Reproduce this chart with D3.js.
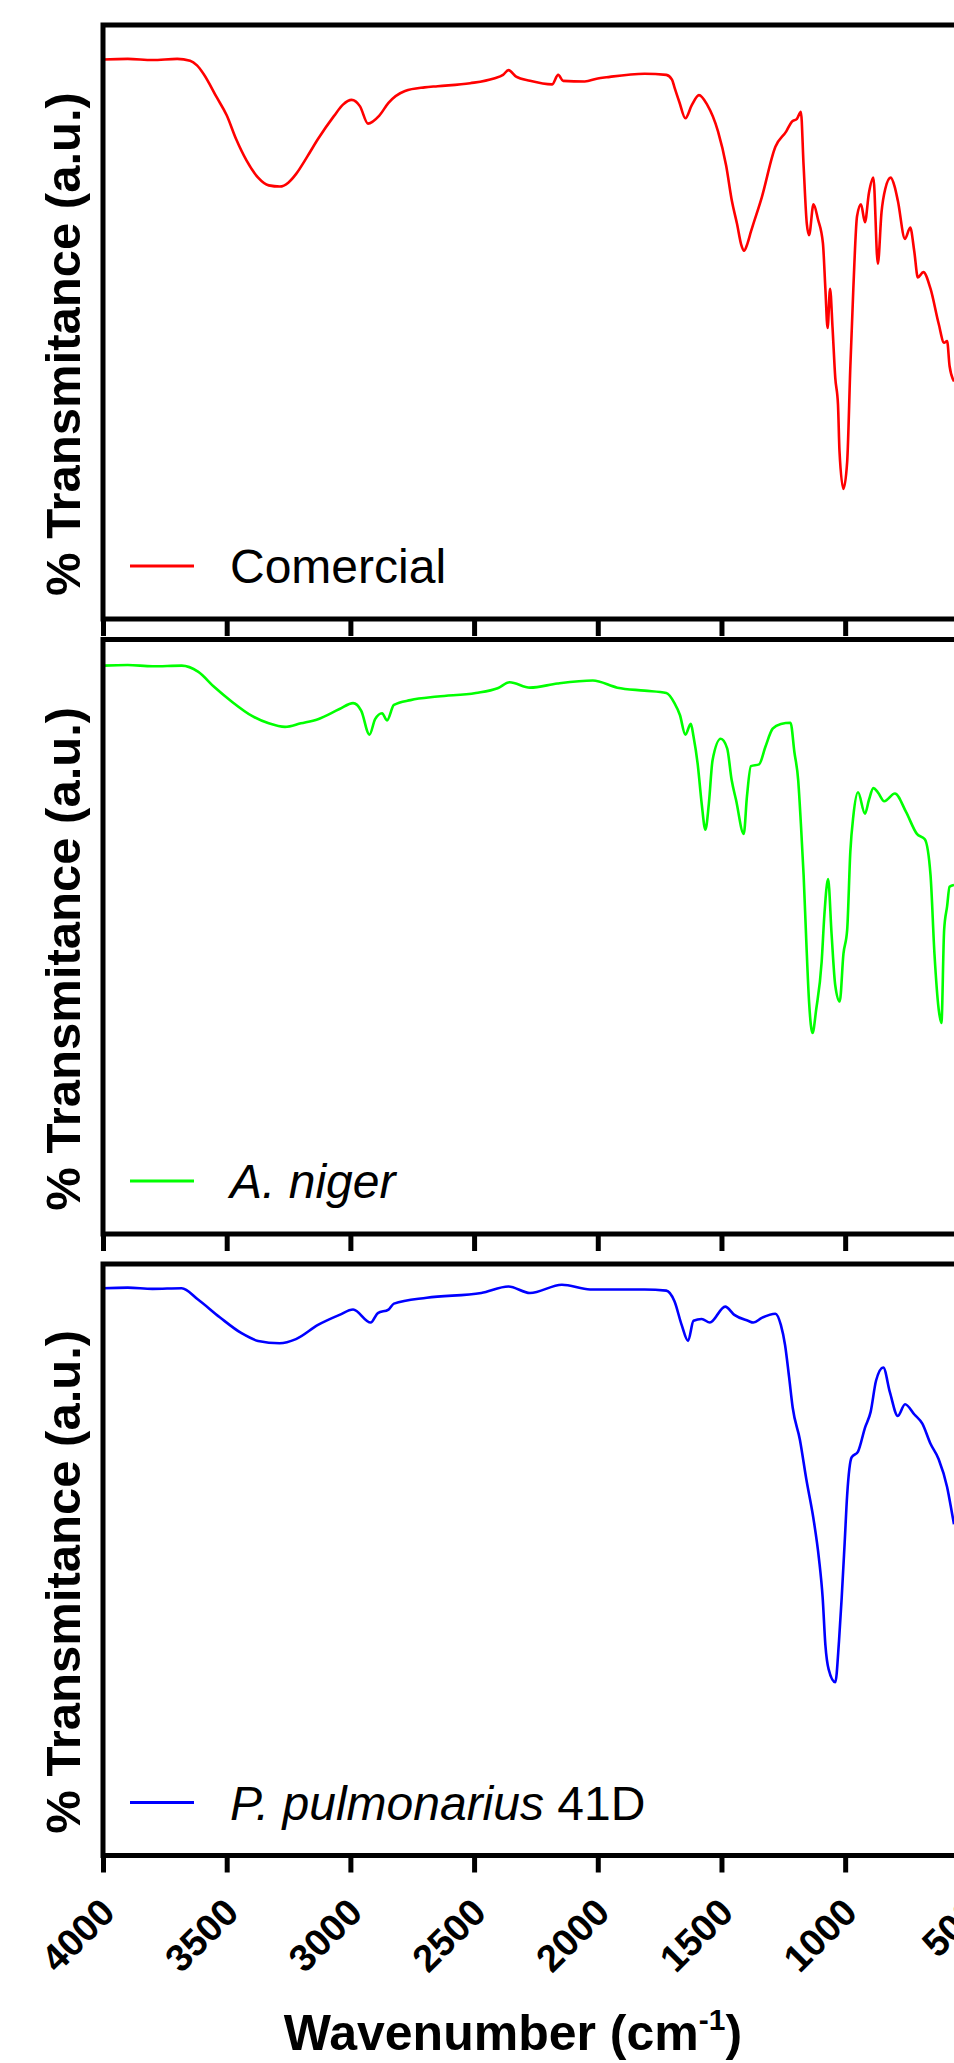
<!DOCTYPE html>
<html>
<head>
<meta charset="utf-8">
<script src="https://cdn.jsdelivr.net/npm/d3@7"></script>
<style>
  body { margin: 0; background: #fff; }
  svg { display: block; }
  text { font-family: "Liberation Sans", Arial, sans-serif; fill: #000; }
</style>
</head>
<body>
<div id="chart"></div>
<script>
// Spectra: [wavenumber cm-1, transmittance in % of panel height]
var comercial = [
  [4000, 94.2], [3900, 94.3], [3800, 94.1], [3700, 94.3], [3648, 94.0], [3620, 93.2],
  [3594, 91.8], [3540, 87.8], [3500, 84.8], [3462, 80.8], [3420, 77.2], [3373, 74.3],
  [3330, 73.0], [3285, 72.8], [3250, 73.5], [3220, 74.9], [3175, 77.8], [3131, 80.8],
  [3066, 84.7], [3030, 86.6], [2995, 87.4], [2961, 86.3], [2929, 83.4], [2884, 84.7],
  [2846, 86.9], [2779, 88.9], [2700, 89.5], [2647, 89.7], [2516, 90.2], [2420, 91.0],
  [2383, 91.6], [2361, 92.4], [2330, 91.3], [2274, 90.6], [2185, 90.0], [2160, 91.6],
  [2140, 90.6], [2053, 90.5], [2000, 91.0], [1965, 91.2], [1811, 91.8], [1723, 91.6],
  [1700, 90.8], [1690, 89.5], [1670, 87.0], [1646, 84.3], [1620, 86.5], [1591, 88.2],
  [1558, 86.6], [1514, 82.1], [1481, 76.3], [1458, 70.4], [1437, 66.5], [1420, 63.0],
  [1409, 62.0], [1395, 63.2], [1381, 65.2], [1337, 71.0], [1282, 79.5], [1238, 82.1],
  [1216, 83.7], [1195, 84.2], [1179, 85.4], [1168, 76.3], [1155, 66.5], [1146, 64.6],
  [1128, 69.8], [1110, 67.3], [1090, 63.3], [1080, 55.6], [1071, 49.0], [1061, 55.6],
  [1051, 49.0], [1040, 40.6], [1029, 36.1], [1023, 28.3], [1007, 21.9], [992, 26.4],
  [979, 42.6], [967, 55.6], [952, 67.8], [936, 69.8], [920, 66.8], [904, 71.7],
  [886, 74.3], [868, 59.8], [853, 68.5], [838, 72.4], [816, 74.3], [800, 72.8],
  [787, 70.4], [758, 64.0], [737, 65.9], [721, 62.0], [706, 57.5], [684, 58.4],
  [655, 55.6], [622, 49.7], [600, 46.5], [588, 46.8], [578, 42.6], [560, 40.0]
]

var aniger = [
  [4000, 95.6], [3900, 95.7], [3800, 95.5], [3682, 95.6], [3616, 94.6], [3550, 92.0],
  [3484, 89.7], [3396, 87.1], [3330, 85.9], [3264, 85.3], [3200, 85.9], [3131, 86.6],
  [3044, 88.3], [2989, 89.3], [2956, 88.0], [2923, 84.0], [2900, 86.6], [2872, 87.6],
  [2852, 86.4], [2824, 89.0], [2757, 89.8], [2647, 90.4], [2493, 91.0], [2405, 91.8],
  [2356, 92.8], [2274, 91.9], [2163, 92.6], [2020, 93.1], [1921, 91.9], [1811, 91.4],
  [1723, 91.0], [1690, 89.3], [1668, 87.3], [1646, 84.0], [1624, 85.8], [1613, 83.7],
  [1596, 79.0], [1580, 72.4], [1565, 68.0], [1551, 72.4], [1536, 79.7], [1503, 83.3],
  [1477, 81.7], [1459, 76.4], [1441, 73.0], [1410, 67.3], [1397, 73.6], [1381, 78.7],
  [1348, 79.0], [1322, 82.0], [1293, 85.0], [1260, 85.8], [1221, 86.0], [1205, 81.0],
  [1190, 76.4], [1179, 69.0], [1168, 60.4], [1157, 49.1], [1146, 39.1], [1132, 33.8],
  [1117, 37.8], [1095, 45.8], [1084, 53.7], [1069, 59.7], [1055, 50.5], [1040, 41.8],
  [1022, 39.1], [1007, 47.1], [992, 51.1], [979, 64.4], [967, 70.3], [948, 74.3],
  [920, 70.7], [904, 73.0], [886, 75.0], [868, 74.3], [842, 72.8], [799, 74.1],
  [754, 71.0], [710, 67.3], [678, 66.4], [655, 60.4], [639, 47.1], [622, 37.8],
  [611, 35.5], [600, 51.1], [588, 55.1], [578, 58.4], [560, 58.7]
]

var pulmonarius = [
  [4000, 95.9], [3900, 96.0], [3800, 95.8], [3682, 95.9], [3616, 94.0], [3528, 91.0],
  [3440, 88.3], [3373, 87.0], [3286, 86.6], [3220, 87.3], [3131, 89.7], [3044, 91.4],
  [2989, 92.3], [2918, 90.1], [2889, 91.7], [2846, 92.3], [2824, 93.3], [2691, 94.3],
  [2471, 95.1], [2361, 96.2], [2274, 95.1], [2145, 96.5], [2031, 95.7], [1811, 95.7],
  [1723, 95.5], [1690, 93.7], [1661, 89.7], [1635, 87.0], [1613, 90.4], [1580, 90.7],
  [1547, 90.1], [1485, 92.8], [1448, 91.4], [1393, 90.4], [1371, 90.1], [1337, 90.9],
  [1282, 91.6], [1260, 89.7], [1243, 86.3], [1227, 81.0], [1212, 75.7], [1183, 70.3],
  [1157, 63.6], [1128, 56.9], [1106, 50.2], [1091, 43.6], [1080, 35.6], [1067, 31.5],
  [1040, 29.3], [1025, 36.2], [1014, 43.6], [1002, 52.9], [992, 60.9], [974, 67.3],
  [948, 68.3], [920, 72.3], [897, 75.0], [875, 80.3], [846, 82.5], [819, 78.3],
  [787, 74.3], [758, 76.3], [721, 74.6], [688, 73.0], [655, 69.6], [622, 67.0],
  [588, 62.3], [567, 57.6], [560, 56.0]
]

var xTicks = [4000, 3500, 3000, 2500, 2000, 1500, 1000, 500]
var yLabel = '% Transmitance (a.u.)'

var width = 954
var height = 2063

var svg = d3.select('#chart')
  .append('svg')
  .attr('width', width)
  .attr('height', height)

// the plot runs past the right edge of the picture
var xPositionScale = d3.scaleLinear()
  .domain([4000, 400])
  .range([103, 993.6])

var panels = [
  { top: 25, bottom: 619, color: '#ff0000', data: comercial,
    legend: [{ text: 'Comercial', italic: false }] },
  { top: 639.5, bottom: 1234, color: '#00ff00', data: aniger,
    legend: [{ text: 'A. niger', italic: true }] },
  { top: 1264, bottom: 1855.5, color: '#0000ff', data: pulmonarius,
    legend: [{ text: 'P. pulmonarius', italic: true }, { text: ' 41D', italic: false }] }
]

panels.forEach(function(p, i) {
  var yPositionScale = d3.scaleLinear()
    .domain([0, 100])
    .range([p.bottom, p.top])

  var g = svg.append('g').attr('class', 'panel')

  // spectrum
  var line = d3.line()
    .x(d => xPositionScale(d[0]))
    .y(d => yPositionScale(d[1]))
    .curve(d3.curveMonotoneX)

  g.append('path')
    .datum(p.data)
    .attr('d', line)
    .attr('fill', 'none')
    .attr('stroke', p.color)
    .attr('stroke-width', 2.6)
    .attr('stroke-linejoin', 'round')

  // frame
  g.append('rect')
    .attr('x', xPositionScale(4000))
    .attr('y', p.top)
    .attr('width', xPositionScale(400) - xPositionScale(4000))
    .attr('height', p.bottom - p.top)
    .attr('fill', 'none')
    .attr('stroke', '#000')
    .attr('stroke-width', 5)

  // bottom axis ticks
  var xAxis = d3.axisBottom(xPositionScale)
    .tickValues(xTicks)
    .tickSize(17)
    .tickSizeOuter(0)
    .tickFormat('')

  var axis = g.append('g')
    .attr('class', 'axis x-axis')
    .attr('transform', `translate(0, ${p.bottom})`)
    .call(xAxis)
  axis.select('.domain').remove()
  axis.selectAll('.tick line')
    .attr('stroke', '#000')
    .attr('stroke-width', 5)

  // legend
  var legendY = p.bottom - 53
  g.append('line')
    .attr('x1', 130)
    .attr('x2', 194)
    .attr('y1', legendY)
    .attr('y2', legendY)
    .attr('stroke', p.color)
    .attr('stroke-width', 3)

  var legendText = g.append('text')
    .attr('x', 230)
    .attr('y', p.bottom - 36)
    .attr('font-size', 48)
  p.legend.forEach(function(part) {
    legendText.append('tspan')
      .attr('font-style', part.italic ? 'italic' : 'normal')
      .text(part.text)
  })

  // y label
  var cy = (p.top + p.bottom) / 2 + 22
  g.append('text')
    .attr('transform', `translate(80, ${cy}) rotate(-90)`)
    .attr('text-anchor', 'middle')
    .attr('font-size', 49)
    .attr('font-weight', 'bold')
    .text(yLabel)

  // tick labels only on the last panel
  if (i === panels.length - 1) {
    g.selectAll('.tick-label')
      .data(xTicks)
      .enter()
      .append('text')
      .attr('class', 'tick-label')
      .attr('transform', d => `translate(${xPositionScale(d) + 14}, ${p.bottom + 59}) rotate(-45)`)
      .attr('text-anchor', 'end')
      .attr('font-size', 38)
      .attr('font-weight', 'bold')
      .text(d => d)
  }
})

// x axis title
var xTitle = svg.append('text')
  .attr('x', 513)
  .attr('y', 2050)
  .attr('text-anchor', 'middle')
  .attr('font-size', 50)
  .attr('font-weight', 'bold')
xTitle.append('tspan').text('Wavenumber (cm')
xTitle.append('tspan')
  .attr('font-size', 30)
  .attr('dy', -20)
  .text('-1')
xTitle.append('tspan')
  .attr('dy', 20)
  .text(')')
</script>
</body>
</html>
